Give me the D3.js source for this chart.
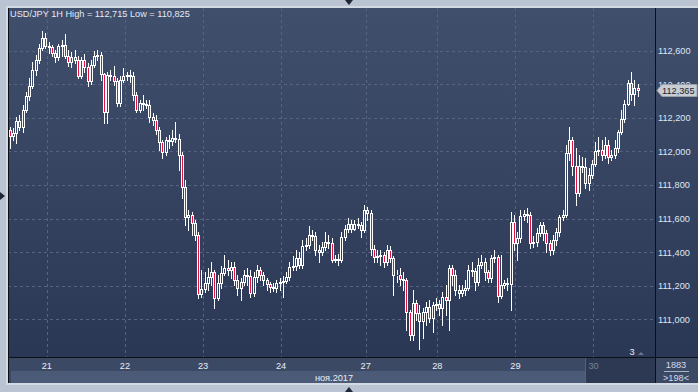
<!DOCTYPE html>
<html>
<head>
<meta charset="utf-8">
<script src="https://cdn.jsdelivr.net/npm/d3@7"></script>
<style>
  html, body { margin: 0; padding: 0; background: #b9c3d2; }
  svg { display: block; font-family: "Liberation Sans", Arial, sans-serif; }
</style>
</head>
<body>
<div id="chart"></div>
<script>
// USD/JPY hourly candles, 20-30 Nov 2017
const opens = [112.127,112.091,112.109,112.180,112.144,112.246,112.329,112.388,112.484,112.544,
  112.615,112.674,112.627,112.621,112.585,112.561,112.627,112.633,112.567,112.532,
  112.561,112.544,112.448,112.544,112.502,112.418,112.514,112.567,112.573,112.460,
  112.234,112.454,112.448,112.418,112.287,112.424,112.448,112.454,112.448,112.335,
  112.246,112.287,112.281,112.275,112.204,112.186,112.127,112.055,111.996,112.067,
  112.061,112.079,112.073,111.978,111.787,111.609,111.621,111.573,111.502,111.151,
  111.181,111.216,111.252,111.282,111.127,111.216,111.276,111.305,111.294,111.311,
  111.234,111.187,111.222,111.264,111.258,111.157,111.252,111.294,111.264,111.234,
  111.210,111.193,111.187,111.216,111.222,111.228,111.252,111.311,111.317,111.365,
  111.323,111.436,111.442,111.502,111.496,111.413,111.401,111.431,111.460,111.454,
  111.353,111.359,111.353,111.490,111.538,111.567,111.538,111.567,111.561,111.532,
  111.651,111.633,111.419,111.371,111.377,111.383,111.341,111.413,111.365,111.264,
  111.264,111.240,111.234,111.044,110.906,111.097,111.038,110.990,111.044,111.073,
  111.008,111.085,111.091,111.067,111.133,111.115,111.305,111.264,111.175,111.157,
  111.175,111.187,111.294,111.288,111.222,111.323,111.341,111.282,111.246,111.365,
  111.371,111.139,111.204,111.216,111.210,111.579,111.454,111.484,111.615,111.627,
  111.621,111.454,111.460,111.514,111.561,111.514,111.454,111.413,111.472,111.520,
  111.609,111.621,111.990,112.067,111.912,111.752,111.912,111.906,111.811,111.859,
  111.924,112.002,112.008,111.978,112.037,111.966,111.978,112.020,112.115,112.192,
  112.281,112.406,112.341,112.377];
const highs = [112.144,112.138,112.204,112.216,112.275,112.353,112.436,112.532,112.573,112.639,
  112.715,112.704,112.651,112.633,112.603,112.639,112.663,112.698,112.603,112.591,
  112.603,112.567,112.561,112.579,112.526,112.544,112.597,112.603,112.591,112.466,
  112.472,112.484,112.508,112.436,112.448,112.496,112.472,112.484,112.472,112.353,
  112.305,112.335,112.305,112.305,112.228,112.216,112.144,112.067,112.085,112.097,
  112.127,112.174,112.103,111.996,111.829,111.651,111.639,111.591,111.520,111.294,
  111.282,111.305,111.341,111.294,111.264,111.317,111.383,111.353,111.341,111.341,
  111.264,111.246,111.294,111.305,111.294,111.282,111.323,111.311,111.282,111.246,
  111.222,111.216,111.234,111.246,111.258,111.282,111.341,111.377,111.413,111.401,
  111.472,111.484,111.555,111.532,111.520,111.442,111.460,111.520,111.502,111.484,
  111.383,111.389,111.520,111.561,111.603,111.591,111.591,111.603,111.579,111.680,
  111.668,111.651,111.442,111.413,111.413,111.401,111.442,111.436,111.377,111.294,
  111.305,111.282,111.246,111.056,111.175,111.115,111.085,111.067,111.103,111.115,
  111.103,111.127,111.115,111.163,111.204,111.323,111.323,111.294,111.204,111.204,
  111.234,111.323,111.341,111.305,111.365,111.383,111.365,111.294,111.383,111.413,
  111.383,111.383,111.234,111.246,111.639,111.621,111.520,111.651,111.651,111.663,
  111.639,111.496,111.544,111.579,111.579,111.532,111.472,111.502,111.544,111.621,
  111.651,112.037,112.144,112.085,112.020,111.978,111.966,111.960,111.901,111.948,
  112.055,112.085,112.067,112.085,112.067,112.008,112.067,112.127,112.246,112.305,
  112.424,112.472,112.424,112.400];
const lows = [112.020,112.067,112.049,112.127,112.115,112.234,112.305,112.377,112.454,112.526,
  112.603,112.615,112.585,112.567,112.532,112.544,112.567,112.556,112.508,112.502,
  112.526,112.436,112.436,112.472,112.388,112.400,112.502,112.544,112.424,112.168,
  112.168,112.424,112.394,112.269,112.269,112.412,112.424,112.412,112.305,112.234,
  112.234,112.246,112.258,112.174,112.157,112.103,112.008,111.960,111.978,112.020,
  112.037,112.055,111.889,111.722,111.561,111.532,111.502,111.472,111.127,111.133,
  111.163,111.175,111.204,111.067,111.115,111.187,111.264,111.264,111.246,111.204,
  111.145,111.115,111.204,111.204,111.133,111.139,111.222,111.234,111.204,111.175,
  111.163,111.169,111.163,111.175,111.133,111.216,111.234,111.294,111.294,111.305,
  111.305,111.413,111.425,111.472,111.383,111.341,111.383,111.413,111.425,111.341,
  111.341,111.323,111.341,111.472,111.520,111.520,111.532,111.544,111.490,111.520,
  111.591,111.383,111.341,111.341,111.323,111.311,111.323,111.341,111.145,111.222,
  111.204,111.175,110.936,110.877,110.877,110.996,110.825,110.889,110.966,110.984,
  110.924,111.056,111.026,110.966,111.026,110.936,111.204,111.145,111.127,111.139,
  111.145,111.175,111.258,111.175,111.204,111.305,111.234,111.222,111.222,111.341,
  111.103,111.127,111.187,111.175,111.056,111.413,111.353,111.460,111.591,111.579,
  111.425,111.431,111.436,111.496,111.472,111.401,111.383,111.389,111.442,111.496,
  111.591,111.609,111.948,111.859,111.680,111.734,111.877,111.781,111.770,111.841,
  111.912,111.978,111.948,111.960,111.930,111.948,111.960,111.996,112.103,112.174,
  112.275,112.305,112.275,112.329];
const closes = [112.091,112.109,112.180,112.144,112.246,112.329,112.388,112.484,112.544,112.615,
  112.674,112.627,112.621,112.585,112.561,112.627,112.633,112.567,112.532,112.561,
  112.544,112.448,112.544,112.502,112.418,112.514,112.567,112.573,112.460,112.234,
  112.454,112.448,112.418,112.287,112.424,112.448,112.454,112.448,112.335,112.246,
  112.287,112.281,112.275,112.204,112.186,112.127,112.055,111.996,112.067,112.061,
  112.079,112.073,111.978,111.787,111.609,111.621,111.573,111.502,111.151,111.181,
  111.216,111.252,111.282,111.127,111.216,111.276,111.305,111.294,111.311,111.234,
  111.187,111.222,111.264,111.258,111.157,111.252,111.294,111.264,111.234,111.210,
  111.193,111.187,111.216,111.222,111.228,111.252,111.311,111.317,111.365,111.323,
  111.436,111.442,111.502,111.496,111.413,111.401,111.431,111.460,111.454,111.353,
  111.359,111.353,111.490,111.538,111.567,111.538,111.567,111.561,111.532,111.651,
  111.633,111.419,111.371,111.377,111.383,111.341,111.413,111.365,111.264,111.264,
  111.240,111.234,111.044,110.906,111.097,111.038,110.990,111.044,111.073,111.008,
  111.085,111.091,111.067,111.133,111.115,111.305,111.264,111.175,111.157,111.175,
  111.187,111.294,111.288,111.222,111.323,111.341,111.282,111.246,111.365,111.371,
  111.139,111.204,111.216,111.210,111.579,111.454,111.484,111.615,111.627,111.621,
  111.454,111.460,111.514,111.561,111.514,111.454,111.413,111.472,111.520,111.609,
  111.621,111.990,112.067,111.912,111.752,111.912,111.906,111.811,111.859,111.924,
  112.002,112.008,111.978,112.037,111.966,111.978,112.020,112.115,112.192,112.281,
  112.406,112.341,112.377,112.365];

const dayTicks = [12, 36, 60, 84, 110, 132, 156, 180];
const dayLabels = ["21", "22", "23", "24", "27", "28", "29", "30"];
const priceTicks = [111.0, 111.2, 111.4, 111.6, 111.8, 112.0, 112.2, 112.4, 112.6];
const monthLabel = "ноя.2017";
const barsTotal = "1883";
const barsShown = ">198<";

const W = 698, H = 392;
const plot = { left: 8, top: 8, right: 655, bottom: 357 };

const ru = d3.formatLocale({ decimal: ",", thousands: " ", grouping: [3], currency: ["", ""] });
const fmt = ru.format(".3f");

const svg = d3.select('#chart').append('svg')
  .attr('width', W)
  .attr('height', H);

const defs = svg.append('defs');
const grad = defs.append('linearGradient')
  .attr('id', 'bg')
  .attr('x1', 0).attr('y1', 0).attr('x2', 0).attr('y2', 1);
grad.append('stop').attr('offset', '0%').attr('stop-color', '#404f6c');
grad.append('stop').attr('offset', '100%').attr('stop-color', '#2b3855');

// light inner edge of the outer frame
svg.append('rect')
  .attr('x', plot.left - 2).attr('y', plot.top - 2)
  .attr('width', W - plot.left + 2).attr('height', 383 - plot.top + 4)
  .attr('fill', '#d2d9e3');

// panel background (plot + right axis)
svg.append('rect')
  .attr('x', plot.left).attr('y', plot.top)
  .attr('width', W - plot.left).attr('height', plot.bottom - plot.top)
  .attr('fill', 'url(#bg)');

// bottom time axis rows
svg.append('rect')
  .attr('x', plot.left).attr('y', plot.bottom)
  .attr('width', W - plot.left).attr('height', 26)
  .attr('fill', '#3c4965');
svg.append('rect')
  .attr('x', 11).attr('y', 371)
  .attr('width', 575).attr('height', 12)
  .attr('fill', '#4b5a76');
svg.append('rect')
  .attr('x', 585).attr('y', plot.bottom + 1)
  .attr('width', plot.right - 585).attr('height', 25)
  .attr('fill', '#2d3953');
svg.append('line')
  .attr('x1', 585.5).attr('x2', 585.5)
  .attr('y1', plot.bottom + 1).attr('y2', 383)
  .attr('stroke', '#566179');

const x = d3.scaleLinear()
  .domain([0, closes.length - 1])
  .range([9.5, 637.5]);

const y = d3.scaleLinear()
  .domain([111.0, 112.6])
  .range([319.3, 50.5]);

// grid
svg.append('g')
  .selectAll('line')
  .data(priceTicks)
  .join('line')
  .attr('x1', plot.left).attr('x2', plot.right)
  .attr('y1', d => Math.round(y(d)) + 0.5)
  .attr('y2', d => Math.round(y(d)) + 0.5)
  .attr('stroke', '#56647f')
  .attr('stroke-dasharray', '3,3');

svg.append('g')
  .selectAll('line')
  .data(dayTicks)
  .join('line')
  .attr('x1', d => Math.round(x(d) - 1.7) + 0.5)
  .attr('x2', d => Math.round(x(d) - 1.7) + 0.5)
  .attr('y1', plot.top).attr('y2', plot.bottom)
  .attr('stroke', '#56647f')
  .attr('stroke-dasharray', '3,3');

// candles
const candles = closes.map((c, i) => ({ i, o: opens[i], h: highs[i], l: lows[i], c }));

const cg = svg.append('g')
  .selectAll('g')
  .data(candles)
  .join('g');

cg.each(function (d) {
  const g = d3.select(this);
  const cx = Math.round(x(d.i));
  const top = Math.round(y(Math.max(d.o, d.c)));
  const bot = Math.round(y(Math.min(d.o, d.c)));
  const hy = Math.round(y(d.h));
  const ly = Math.round(y(d.l));
  const wx = cx + 0.5;
  if (hy < top) {
    g.append('line').attr('x1', wx).attr('x2', wx)
      .attr('y1', hy).attr('y2', top).attr('stroke', '#fff');
  }
  if (ly > bot) {
    g.append('line').attr('x1', wx).attr('x2', wx)
      .attr('y1', bot + 1).attr('y2', ly + 1).attr('stroke', '#fff');
  }
  g.append('rect')
    .attr('x', cx - 0.5).attr('y', top + 0.5)
    .attr('width', 2).attr('height', Math.max(bot - top, 0))
    .attr('fill', d.c < d.o ? '#e5103f' : 'none')
    .attr('stroke', '#fff')
    .attr('stroke-width', 1);
});

// separators and panel border
svg.append('line')
  .attr('x1', plot.left).attr('x2', W)
  .attr('y1', plot.bottom + 0.5).attr('y2', plot.bottom + 0.5)
  .attr('stroke', '#0b0f18');
svg.append('line')
  .attr('x1', plot.right + 0.5).attr('x2', plot.right + 0.5)
  .attr('y1', plot.top).attr('y2', 383)
  .attr('stroke', '#0b0f18');
svg.append('line')
  .attr('x1', plot.left + 0.5).attr('x2', plot.left + 0.5)
  .attr('y1', plot.top).attr('y2', 383)
  .attr('stroke', '#0b0f18');

// right price axis
svg.append('g')
  .selectAll('text')
  .data(priceTicks)
  .join('text')
  .attr('x', 658)
  .attr('y', d => y(d) + 3.5)
  .attr('font-size', 9.2)
  .attr('fill', '#dfe7f4')
  .text(d => fmt(d));

// last price marker
const lastClose = closes[closes.length - 1];
const ly0 = Math.round(y(lastClose)) + 0.5;
svg.append('path')
  .attr('d', `M657,${ly0} L662,${ly0 - 6} L697,${ly0 - 6} L697,${ly0 + 6} L662,${ly0 + 6} Z`)
  .attr('fill', '#c9cdd3')
  .attr('stroke', '#9aa1ab');
svg.append('text')
  .attr('x', 662).attr('y', ly0 + 3.5)
  .attr('font-size', 9.2)
  .attr('fill', '#1b2332')
  .text(fmt(lastClose));

// day labels
svg.append('g')
  .selectAll('text')
  .data(dayTicks)
  .join('text')
  .attr('x', d => x(d) - 1.7)
  .attr('y', 368.5)
  .attr('text-anchor', 'middle')
  .attr('font-size', 9.2)
  .attr('fill', (d, i) => i === dayTicks.length - 1 ? '#75829c' : '#e8eef8')
  .text((d, i) => dayLabels[i]);

svg.append('text')
  .attr('x', 334).attr('y', 380.5)
  .attr('text-anchor', 'middle')
  .attr('font-size', 9.2)
  .attr('fill', '#e8eef8')
  .text(monthLabel);

// bar counters
svg.append('text')
  .attr('x', 676).attr('y', 368)
  .attr('text-anchor', 'middle')
  .attr('font-size', 9.2)
  .attr('fill', '#d4dcea')
  .text(barsTotal);
svg.append('line')
  .attr('x1', 664).attr('x2', 689)
  .attr('y1', 371.5).attr('y2', 371.5)
  .attr('stroke', '#a9b3c4');
svg.append('text')
  .attr('x', 676).attr('y', 381)
  .attr('text-anchor', 'middle')
  .attr('font-size', 9.2)
  .attr('fill', '#d4dcea')
  .text(barsShown);

svg.append('text')
  .attr('x', 632).attr('y', 355)
  .attr('text-anchor', 'middle')
  .attr('font-size', 9.2)
  .attr('fill', '#e8eef8')
  .text('3');
svg.append('path')
  .attr('d', 'M638,355 L641,352 L644,355 Z')
  .attr('fill', '#6a7690');

// title
svg.append('text')
  .attr('x', 10).attr('y', 17)
  .attr('font-size', 9.2)
  .attr('fill', '#e3eaf6')
  .text(`USD/JPY 1H High = ${fmt(d3.max(highs))} Low = ${fmt(d3.min(lows))}`);

// frame markers
svg.append('path').attr('d', 'M345,0 L353,0 L349,5 Z').attr('fill', '#1e2636');
svg.append('path').attr('d', 'M345,392 L353,392 L349,387 Z').attr('fill', '#1e2636');
svg.append('path').attr('d', 'M0,192 L0,200 L5,196 Z').attr('fill', '#1e2636');
</script>
</body>
</html>
